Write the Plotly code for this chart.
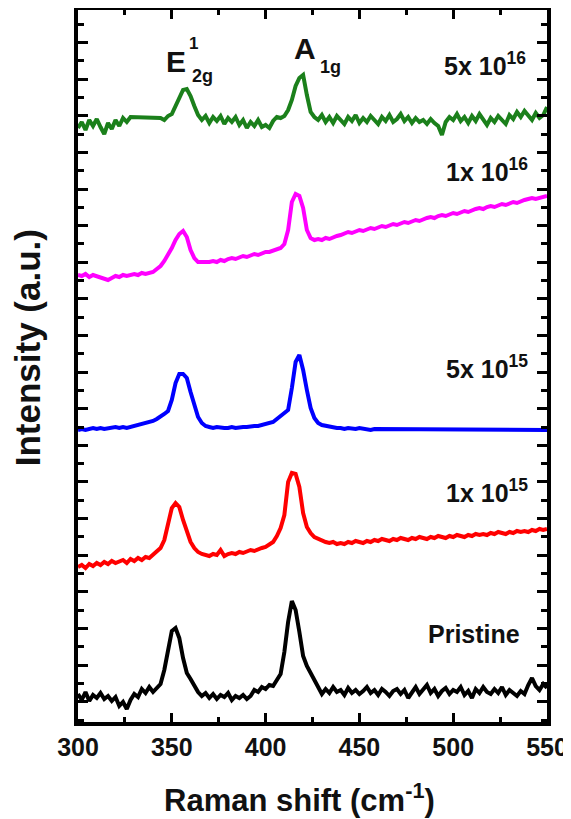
import plotly.graph_objects as go

# Raman shift grid (cm^-1)
raman_shift = [300 + 2 * i for i in range(126)]

# Intensities (a.u., stacked offsets as in the figure)
pristine = [
    26, 20, 28, 19, 25, 22, 27, 21, 24, 19,
    23, 14, 18, 11, 20, 26, 23, 31, 27, 33,
    28, 32, 36, 50, 72, 89, 92, 82, 62, 47,
    41, 34, 28, 24, 27, 22, 26, 21, 25, 23,
    27, 20, 24, 22, 25, 21, 24, 30, 28, 33,
    31, 35, 34, 40, 46, 68, 98, 119, 110, 88,
    64, 54, 47, 39, 32, 26, 31, 27, 33, 28,
    30, 25, 32, 27, 30, 26, 29, 33, 27, 30,
    25, 31, 28, 24, 29, 31, 26, 30, 22, 28,
    33, 26, 30, 35, 27, 31, 24, 29, 32, 26,
    30, 28, 33, 25, 29, 22, 31, 27, 33, 28,
    26, 31, 27, 33, 25, 30, 27, 24, 29, 26,
    35, 42, 34, 30, 36, 32,
]
dose_1e15 = [
    153, 155, 152, 156, 154, 157, 155, 158, 156, 159,
    157, 158, 160, 157, 161, 159, 162, 160, 163, 162,
    165, 168, 172, 180, 195, 212, 217, 213, 200, 188,
    178, 172, 168, 166, 165, 164, 166, 165, 170, 164,
    166, 167, 166, 168, 167, 169, 170, 169, 171, 172,
    173, 175, 178, 184, 192, 205, 238, 247, 246, 233,
    207, 193, 187, 183, 181, 179, 178, 177, 178, 176,
    177, 176, 178, 177, 179, 178, 177, 179, 178, 180,
    179, 181, 180, 179, 181, 180, 182, 181, 180, 182,
    181, 183, 182, 181, 183, 182, 184, 183, 182, 184,
    183, 185, 184, 183, 185, 184, 186, 185, 186, 185,
    187, 186, 188, 187, 186, 188, 187, 189, 188, 189,
    188, 190, 189, 191, 190, 191,
]
dose_5e15 = [
    290, 291, 290, 291, 292, 291, 292, 291, 292, 292,
    293, 292, 293, 292, 293, 293, 294, 295, 296, 297,
    299, 301, 303, 306, 309, 320, 337, 346, 346, 342,
    328, 314, 303, 297, 294, 293, 292, 293, 292, 292,
    292, 293, 292, 293, 293, 293, 294, 294, 294, 295,
    295, 296, 298, 301, 304, 307, 310, 332, 358, 365,
    350, 330, 312, 302, 297, 295, 294, 293, 292, 292,
    292, 291, 292, 291, 291, 292, 291, 291, 290, 291,
    291, 290, 291, 290, 291, 291, 290, 290, 291, 290,
    290, 291, 290, 290, 291, 290, 290, 290, 291, 290,
    290, 291, 290, 290, 291, 290, 290, 291, 290, 290,
    291, 290, 290, 291, 290, 290, 291, 290, 291, 290,
    290, 291, 290, 290, 291, 290,
]
dose_1e16 = [
    445, 444, 446, 443, 445, 444, 443, 441, 440, 442,
    444, 443, 445, 444, 445, 446, 445, 447, 446, 447,
    448, 451, 454, 459, 465, 472, 480, 486, 489, 483,
    470, 462, 458, 458, 457, 458, 459, 458, 460, 459,
    461, 462, 461, 463, 464, 463, 465, 466, 465, 467,
    468, 468, 469, 471, 472, 476, 490, 518, 526, 524,
    512, 490, 482, 480, 481, 480, 482, 481, 483, 484,
    485, 486, 488, 487, 489, 490, 489, 491, 492, 491,
    493, 494, 493, 495, 496, 495, 497, 498, 497, 499,
    500, 499, 501, 502, 503, 502, 504, 505, 504, 506,
    507, 506, 508, 509, 508, 510, 511, 512, 511, 513,
    514, 513, 515, 516, 515, 517, 518, 517, 519, 520,
    521, 522, 521, 522, 523, 524,
]
dose_5e16 = [
    592, 598, 590, 600, 594, 601, 593, 586, 597, 591,
    600, 594, 602, 598, 603, 603, 603, 603, 603, 602,
    603, 603, 602, 600, 604, 606, 614, 623, 630, 631,
    624, 614, 605, 600, 604, 597, 603, 599, 604, 596,
    602, 598, 603, 595, 600, 592, 598, 594, 600, 593,
    595, 592, 599, 603, 602, 604, 610, 620, 634, 642,
    645, 625, 608, 603, 600, 605, 598, 603, 597, 604,
    600, 596, 603, 599, 605, 597, 602, 598, 604, 600,
    596, 603, 599, 605, 598, 601, 606, 599, 603, 597,
    602, 598, 600, 596, 601, 597, 594, 585, 598, 603,
    600, 606, 599, 603, 597, 604, 599, 606, 600, 595,
    602, 598, 604, 600, 596, 605, 601, 608, 603, 609,
    604, 600, 607, 602, 605, 613,
]

series_names = ["Pristine", "1x 10<sup>15</sup>", "5x 10<sup>15</sup>",
                "1x 10<sup>16</sup>", "5x 10<sup>16</sup>"]
series_values = [pristine, dose_1e15, dose_5e15, dose_1e16, dose_5e16]
series_colors = ["#000000", "#ff0000", "#0000ff", "#ff00ff", "#1b801b"]
# label anchor (x in cm^-1, y in a.u.)
label_x = [536.7, 540.9, 540.9, 540.9, 540.0]
label_y = [86, 229, 353, 550, 656]

FONT = "Liberation Sans, Arial, sans-serif"

fig = go.Figure()
for name, vals, col in zip(series_names, series_values, series_colors):
    fig.add_trace(go.Scatter(x=raman_shift, y=vals, mode="lines", name=name,
                             line=dict(color=col, width=4), showlegend=False))

annotations = []
for name, lx, ly in zip(series_names, label_x, label_y):
    annotations.append(dict(x=lx, y=ly, xref="x", yref="y", text=name, showarrow=False,
                            xanchor="right", yanchor="middle",
                            font=dict(family=FONT, size=25, color="#111", weight="bold")))
# Peak labels
annotations += [
    dict(x=352.5, y=659, text="E", xref="x", yref="y", showarrow=False,
         font=dict(family=FONT, size=30, color="#111", weight="bold")),
    dict(x=361.3, y=677, text="1", xref="x", yref="y", showarrow=False,
         font=dict(family=FONT, size=17, color="#111", weight="bold")),
    dict(x=359.7, y=644, text="2g", xref="x", yref="y", showarrow=False, xanchor="left",
         font=dict(family=FONT, size=18, color="#111", weight="bold")),
    dict(x=421, y=672, text="A", xref="x", yref="y", showarrow=False,
         font=dict(family=FONT, size=30, color="#111", weight="bold")),
    dict(x=427.9, y=653, text="1g", xref="x", yref="y", showarrow=False, xanchor="left",
         font=dict(family=FONT, size=18, color="#111", weight="bold")),
    # axis titles
    dict(x=0.473, y=-0.1068, xref="paper", yref="paper", text="Raman shift (cm<sup>-1</sup>)",
         showarrow=False, xanchor="center", yanchor="middle",
         font=dict(family=FONT, size=31, color="#111", weight="bold")),
    dict(x=-0.1086, y=0.525, xref="paper", yref="paper", text="Intensity (a.u.)",
         showarrow=False, textangle=-90, xanchor="center", yanchor="middle",
         font=dict(family=FONT, size=35, color="#111", weight="bold")),
]

# The page body adds an 8 px offset, so the figure is 8 px smaller and margins shifted.
fig.update_layout(
    width=563, height=811,
    margin=dict(l=70, r=24, t=2, b=97, autoexpand=False),
    paper_bgcolor="white", plot_bgcolor="white",
    annotations=annotations,
    showlegend=False,
)
fig.update_xaxes(
    range=[300, 550], tick0=300, dtick=50, ticks="inside", ticklen=9, tickwidth=3,
    tickcolor="black", showline=True, linewidth=3.5, linecolor="black", mirror="ticks",
    showgrid=False, zeroline=False, automargin=False,
    tickfont=dict(family=FONT, size=25, color="#111", weight="bold"),
    ticklabelstandoff=0, ticklabeloverflow="allow",
    minor=dict(dtick=25, tick0=300, ticks="inside", ticklen=5, tickwidth=3,
               tickcolor="black", showgrid=False),
)
fig.update_yaxes(
    range=[-2, 710], tick0=18.31, dtick=36.62, ticks="inside", ticklen=10, tickwidth=3,
    tickcolor="black", showline=True, linewidth=3.5, linecolor="black", mirror="ticks",
    showgrid=False, zeroline=False, showticklabels=False, automargin=False,
    minor=dict(dtick=18.31, tick0=0, ticks="inside", ticklen=6, tickwidth=3,
               tickcolor="black", showgrid=False),
)

fig.write_html("out.html")
